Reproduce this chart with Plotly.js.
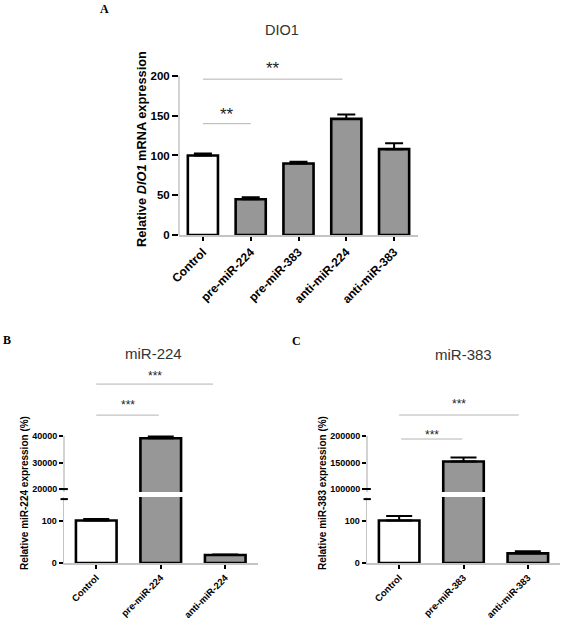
<!DOCTYPE html>
<html>
<head>
<meta charset="utf-8">
<script src="https://cdn.plot.ly/plotly-3.0.1.min.js"></script>
<style>
  html, body { margin: 0; padding: 0; background: #fff; }
  #chart { width: 563px; height: 619px; }
</style>
</head>
<body>
<div id="chart"></div>
<script>
// ---------- DATA ----------
const groupsA = ['Control', 'pre-miR-224', 'pre-miR-383', 'anti-miR-224', 'anti-miR-383'];
const valuesA = [100, 45, 90, 146, 108];
const errorsA = [2.5, 2.5, 2, 5.5, 7.5];
const sigA_from = [0, 0];
const sigA_to = [2.92, 1];
const sigA_lineY = [196, 140];
const sigA_starY = [209, 152];
const sigA_label = ['**', '**'];

const groupsB = ['Control', 'pre-miR-224', 'anti-miR-224'];
const valuesB = [101, 39200, 19];
const errorsB = [3.5, 600, 1.5];
const sigB_from = [0, 0];
const sigB_to = [1.81, 0.97];
const sigB_lineY = [59600, 47900];
const sigB_starY = [62600, 51700];
const sigB_label = ['***', '***'];

const groupsC = ['Control', 'pre-miR-383', 'anti-miR-383'];
const valuesC = [101, 152000, 23];
const errorsC = [11, 7500, 5];
const sigC_from = [0, 0.03];
const sigC_to = [1.86, 0.98];
const sigC_lineY = [239600, 194300];
const sigC_starY = [260400, 201900];
const sigC_label = ['***', '***'];

const tickValsA = [0, 50, 100, 150, 200];
const tickValsBUpper = [20000, 30000, 40000];
const tickValsCUpper = [100000, 150000, 200000];
const tickValsLower = [0, 100];

// ---------- STYLE / LAYOUT HELPERS ----------
const W = 563, H = 619;
const px = v => v / W;
const py = v => 1 - v / H;
const FONT = 'Arial, "Liberation Sans", sans-serif';
const SERIF = '"Times New Roman", "Liberation Serif", serif';
const GRAY = '#979797';
const AXIS = '#c4c4c4';

function barColors(n) { return Array.from({length: n}, (_, i) => i === 0 ? '#ffffff' : GRAY); }

function barTrace(x, y, err, xa, ya, capw) {
  return {
    type: 'bar', x: x, y: y, xaxis: xa, yaxis: ya,
    marker: { color: barColors(x.length), line: { color: '#000', width: 2.6 } },
    error_y: { type: 'data', symmetric: false, array: err, arrayminus: err.map(() => 0),
               color: '#000', thickness: 2, width: capw },
    hoverinfo: 'skip'
  };
}

const traces = [
  barTrace(groupsA, valuesA, errorsA, 'x', 'y', 9),
  barTrace(groupsB, valuesB, errorsB, 'x2', 'y2', 13),
  barTrace(groupsB, valuesB, errorsB, 'x2', 'y3', 13),
  barTrace(groupsC, valuesC, errorsC, 'x3', 'y4', 13),
  barTrace(groupsC, valuesC, errorsC, 'x3', 'y5', 13)
];

function xAxis(dom, anchor, n, fs) {
  return {
    domain: dom, anchor: anchor, range: [-0.5, n - 0.5], type: 'category',
    showline: true, linecolor: AXIS, linewidth: 1.5,
    ticks: 'outside', ticklen: 4, tickwidth: 2, tickcolor: '#000',
    tickangle: -45, showgrid: false, zeroline: false,
    tickfont: { family: FONT, size: fs, color: '#000', weight: 'bold' }
  };
}
function yAxis(dom, anchor, range, vals, fs, showline, tl) {
  return {
    domain: dom, anchor: anchor, range: range, tickmode: 'array', tickvals: vals,
    ticktext: vals.map(v => String(v)),
    showline: showline, linecolor: AXIS, linewidth: 1.5,
    ticks: 'outside', ticklen: tl, tickwidth: 2, tickcolor: '#000',
    showgrid: false, zeroline: false,
    tickfont: { family: FONT, size: fs, color: '#000', weight: 'bold' }
  };
}

const rangeA = [0, 225];
const rangeBUpper = [18900, 66800];
const rangeCUpper = [94340, 334000];
const rangeLower = [0, 157];
const domUpper = [py(492), py(365)];
const domLower = [py(563), py(497)];

const layout = {
  width: W, height: H,
  margin: { l: 0, r: 0, t: 0, b: 0 },
  paper_bgcolor: '#fff', plot_bgcolor: 'rgba(0,0,0,0)',
  showlegend: false, bargap: 0.37,
  font: { family: FONT, color: '#000' },
  xaxis: xAxis([px(179), px(418)], 'y', groupsA.length, 12),
  yaxis: yAxis([py(235), py(56.1)], 'x', rangeA, tickValsA, 11.5, false, 6),
  xaxis2: xAxis([px(64), px(257.5)], 'y3', groupsB.length, 9.5),
  yaxis2: yAxis(domUpper, 'x2', rangeBUpper, tickValsBUpper, 9, false, 4),
  yaxis3: yAxis(domLower, 'x2', rangeLower, tickValsLower, 9, true, 4),
  xaxis3: xAxis([px(367), px(560)], 'y5', groupsC.length, 9.5),
  yaxis4: yAxis(domUpper, 'x3', rangeCUpper, tickValsCUpper, 9, false, 4),
  yaxis5: yAxis(domLower, 'x3', rangeLower, tickValsLower, 9, true, 4),
  shapes: [],
  annotations: []
};

// panel A axis line (only up to the last tick)
layout.shapes.push({ type: 'line', xref: 'x domain', yref: 'y', x0: 0, x1: 0,
  y0: rangeA[0], y1: tickValsA[tickValsA.length - 1], line: { color: AXIS, width: 1.5 } });

// upper-segment axis lines + break marks
[['x2', 'y2', rangeBUpper, tickValsBUpper, 'y3'], ['x3', 'y4', rangeCUpper, tickValsCUpper, 'y5']].forEach(([xa, ya, rg, tv, yl]) => {
  layout.shapes.push({ type: 'line', xref: xa + ' domain', yref: ya, x0: 0, x1: 0,
    y0: rg[0], y1: tv[tv.length - 1], line: { color: AXIS, width: 1.5 } });
  layout.shapes.push({ type: 'line', xref: xa + ' domain', yref: ya, x0: -0.018, x1: 0.02,
    y0: tv[0], y1: tv[0], line: { color: '#000', width: 2 } });
  layout.shapes.push({ type: 'line', xref: xa + ' domain', yref: yl, x0: -0.018, x1: 0.02,
    y0: 152, y1: 152, line: { color: '#000', width: 2 } });
});

// significance brackets
function addSig(xa, ya, from, to, lineY, starY, labels, fs) {
  for (let i = 0; i < from.length; i++) {
    layout.shapes.push({ type: 'line', xref: xa, yref: ya,
      x0: from[i], x1: to[i], y0: lineY[i], y1: lineY[i],
      line: { color: '#b4b4b4', width: 1 } });
    layout.annotations.push({ xref: xa, yref: ya, x: (from[i] + to[i]) / 2, y: starY[i],
      text: labels[i], showarrow: false, xanchor: 'center', yanchor: 'middle',
      font: { family: FONT, size: fs, color: '#222' } });
  }
}
addSig('x', 'y', sigA_from, sigA_to, sigA_lineY, sigA_starY, sigA_label, 17);
addSig('x2', 'y2', sigB_from, sigB_to, sigB_lineY, sigB_starY, sigB_label, 12);
addSig('x3', 'y4', sigC_from, sigC_to, sigC_lineY, sigC_starY, sigC_label, 12);

// titles, panel letters, y-axis titles
function ann(text, x, y, size, opts) {
  layout.annotations.push(Object.assign({ xref: 'paper', yref: 'paper', x: px(x), y: py(y),
    text: text, showarrow: false, xanchor: 'center', yanchor: 'middle',
    font: { family: FONT, size: size, color: '#333' } }, opts || {}));
}
ann('DIO1', 282, 30, 14.5);
ann('miR-224', 153, 353, 15);
ann('miR-383', 463, 354, 15);
ann('A', 104, 9, 12, { font: { family: SERIF, size: 12, color: '#000', weight: 'bold' } });
ann('B', 7, 340, 12, { font: { family: SERIF, size: 12, color: '#000', weight: 'bold' } });
ann('C', 296, 341, 12, { font: { family: SERIF, size: 12, color: '#000', weight: 'bold' } });
ann('Relative <i>DIO1</i> mRNA expression', 142, 149, 12.8,
  { textangle: -90, font: { family: FONT, size: 12.8, color: '#000', weight: 'bold' } });
ann('Relative miR-224 expression (%)', 25, 493, 10,
  { textangle: -90, font: { family: FONT, size: 10, color: '#000', weight: 'bold' } });
ann('Relative miR-383 expression (%)', 323, 493, 10,
  { textangle: -90, font: { family: FONT, size: 10, color: '#000', weight: 'bold' } });

Plotly.newPlot('chart', traces, layout, { staticPlot: true, displayModeBar: false });
</script>
</body>
</html>
